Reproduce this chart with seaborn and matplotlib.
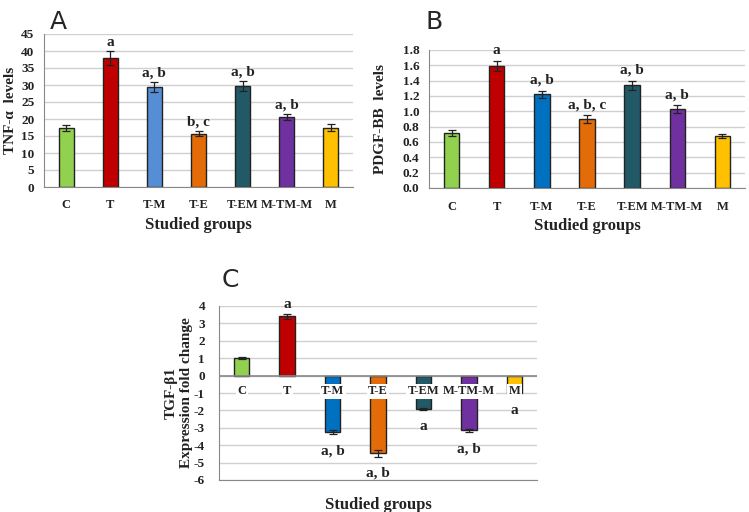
import numpy as np
import pandas as pd
import matplotlib
matplotlib.use("Agg")
import matplotlib.pyplot as plt
import seaborn as sns

groups = ['C', 'T', 'T-M', 'T-E', 'T-EM', 'M-TM-M', 'M']

tnf_vals = [17.3, 38.0, 29.5, 15.7, 29.8, 20.6, 17.4]
tnf_err = [0.8, 2.0, 1.5, 0.8, 1.5, 1.0, 1.0]
tnf_sig = ['', 'a', 'a, b', 'b, c', 'a, b', 'a, b', '']

pdgf_vals = [0.72, 1.59, 1.22, 0.90, 1.34, 1.03, 0.68]
pdgf_err = [0.04, 0.07, 0.05, 0.05, 0.06, 0.05, 0.03]
pdgf_sig = ['', 'a', 'a, b', 'a, b, c', 'a, b', 'a, b', '']

tgf_vals = [1.0, 3.4, -3.25, -4.45, -1.9, -3.15, -1.0]
tgf_err = [0.05, 0.15, 0.1, 0.2, 0.05, 0.1, 0.05]
tgf_sig = ['', 'a', 'a, b', 'a, b', 'a', 'a, b', 'a']

colors_a = ['#92D050', '#C00000', '#558ED5', '#E36C09', '#215967', '#7030A0', '#FFC000']
colors_b = ['#92D050', '#C00000', '#0070C0', '#E36C09', '#215967', '#7030A0', '#FFC000']

serif = 'Liberation Serif'

sns.set_style('white')
plt.rcParams['font.family'] = ['DejaVu Sans']

W, H = 749, 512
fig = plt.figure(figsize=(W / 100, H / 100), dpi=100)


def px_axes(left, top, right, bottom):
    return fig.add_axes([left / W, 1 - bottom / H, (right - left) / W, (bottom - top) / H])


def draw_panel(ax, vals, errs, sig, colors, ylim, yticks, fmt, ylabel, off_up, off_down):
    df = pd.DataFrame({'group': groups, 'value': vals})
    sns.barplot(data=df, x='group', y='value', hue='group', palette=colors,
                saturation=1, width=0.34, edgecolor='#222222', linewidth=1.0,
                legend=False, ax=ax, zorder=2)
    ax.errorbar(range(len(groups)), vals, yerr=errs, fmt='none', ecolor='#222222',
                elinewidth=0.9, capsize=3, capthick=0.9, zorder=3)
    for i, (v, e, s) in enumerate(zip(vals, errs, sig)):
        if not s:
            continue
        if v >= 0:
            ax.text(i, v + e + off_up, s, ha='center', va='bottom', fontsize=11,
                    fontweight='bold', family=serif, color='#222222')
        else:
            ax.text(i, v - e - off_down, s, ha='center', va='top', fontsize=11,
                    fontweight='bold', family=serif, color='#222222')
    ax.set_ylim(*ylim)
    ax.set_xlim(-0.5, len(groups) - 0.5)
    ax.set_yticks(yticks)
    ax.set_yticklabels([fmt.format(t) for t in yticks], fontsize=9.5,
                       fontweight='bold', family=serif, color='#222222')
    ax.yaxis.grid(True, color='#d0d0d0', linewidth=1.0, zorder=0)
    ax.set_axisbelow(True)
    for side in ['top', 'right']:
        ax.spines[side].set_visible(False)
    ax.spines['left'].set_color('#888888')
    ax.spines['bottom'].set_color('#888888')
    ax.tick_params(axis='both', length=0)
    ax.tick_params(axis='y', pad=7)
    ax.set_ylabel(ylabel, fontsize=11, fontweight='bold', family=serif, color='#222222')


# Panel A
ax_a = px_axes(44, 34, 353, 187)
draw_panel(ax_a, tnf_vals, tnf_err, tnf_sig, colors_a, (0, 45), np.arange(0, 46, 5),
           '{:.0f}', 'TNF-α  levels', 0.6, 0)
ax_a.set_xticks(range(len(groups)))
ax_a.set_xticklabels(groups, fontsize=9, fontweight='bold', family=serif, color='#222222')
ax_a.tick_params(axis='x', pad=9)
ax_a.set_xlabel('Studied groups', fontsize=12, fontweight='bold', family=serif,
                color='#222222', labelpad=4)
ax_a.yaxis.set_label_coords(-0.087, 0.5)
fig.text(50 / W, 1 - 22 / H, 'A', fontsize=18, va='center', ha='left')

# Panel B
ax_b = px_axes(429, 50, 745, 188)
draw_panel(ax_b, pdgf_vals, pdgf_err, pdgf_sig, colors_b, (0, 1.8), np.arange(0, 1.81, 0.2),
           '{:.1f}', 'PDGF-BB  levels', 0.05, 0)
ax_b.set_xticks(range(len(groups)))
ax_b.set_xticklabels(groups, fontsize=9, fontweight='bold', family=serif, color='#222222')
ax_b.tick_params(axis='x', pad=9)
ax_b.set_xlabel('Studied groups', fontsize=12, fontweight='bold', family=serif,
                color='#222222', labelpad=4)
ax_b.yaxis.set_label_coords(-0.133, 0.5)
fig.text(425 / W, 1 - 22 / H, 'B', fontsize=18, va='center', ha='left')

# Panel C
ax_c = px_axes(219, 306, 537, 480)
draw_panel(ax_c, tgf_vals, tgf_err, tgf_sig, colors_b, (-6, 4), np.arange(-6, 4.1, 1),
           '{:.0f}', 'TGF-β1\nExpression fold change', 0.15, 0.6)
ax_c.set_xticks([])
ax_c.tick_params(axis='y', pad=10)
ax_c.axhline(0, color='#888888', linewidth=1.2, zorder=4)
# category labels sit on white boxes just under the zero line
for i, g in enumerate(groups):
    ax_c.text(i, -0.9, g, ha='center', va='center', fontsize=9, fontweight='bold',
              family=serif, color='#222222', zorder=5,
              bbox=dict(facecolor='white', edgecolor='none', pad=1.0))
ax_c.set_xlabel('Studied groups', fontsize=12, fontweight='bold', family=serif,
                color='#222222', labelpad=12)
ax_c.yaxis.set_label_coords(-0.082, 0.5)
fig.text(222 / W, 1 - 280 / H, 'C', fontsize=18, va='center', ha='left')

fig.savefig('out.png', dpi=100)
